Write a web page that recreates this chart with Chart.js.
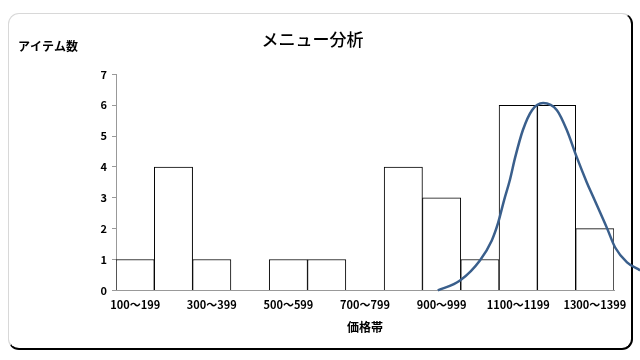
<!DOCTYPE html>
<html>
<head>
<meta charset="utf-8">
<script src="https://cdn.jsdelivr.net/npm/chart.js@4/dist/chart.umd.min.js"></script>
<style>
    html, body { margin: 0; padding: 0; background: #fff; }
    #wrap { position: relative; width: 640px; height: 360px; }
    #frame {
        position: absolute; left: 8px; top: 13px; width: 622px; height: 334px;
        border-left: 1px solid #d8d8d8; border-top: 1px solid #d8d8d8;
        border-right: 2px solid #000; border-bottom: 2px solid #000;
        border-radius: 11px;
    }
    canvas { position: absolute; left: 0; top: 0; }
</style>
</head>
<body>
<div id="wrap">
    <div id="frame"></div>
    <canvas id="menu-chart" width="640" height="360"></canvas>
</div>
<script>
/**
 *  Chart data
 */
var priceBands = ['100〜199', '200〜299', '300〜399', '400〜499', '500〜599', '600〜699', '700〜799',
                  '800〜899', '900〜999', '1000〜1099', '1100〜1199', '1200〜1299', '1300〜1399'];
var itemCounts = [1, 4, 1, 0, 1, 1, 0, 4, 3, 1, 6, 6, 2];

// distribution curve (x in price-band units from the left edge)
var curveX = [8.40, 8.98, 9.50, 9.81, 9.97, 10.13, 10.28, 10.42, 10.62, 10.86, 11.15,
              11.51, 11.77, 12.03, 12.29, 12.45, 12.82, 13.03, 13.34, 13.68];
var curveY = [0, 0.32, 0.97, 1.62, 2.17, 2.92, 3.57, 4.31, 5.19, 5.84, 6.07,
              5.84, 5.19, 4.31, 3.50, 3.05, 2.01, 1.39, 0.91, 0.65];

var fontFamily = '"Noto Sans CJK JP", "Noto Sans", sans-serif';
Chart.defaults.font.family = fontFamily;
Chart.defaults.color = '#000';

var curvePoints = curveX.map(function (x, i) {
    return { x: x, y: curveY[i] };
});

/**
 *  Horizontal y axis caption in the top left corner
 */
var yCaption = {
    id: 'yCaption',
    afterDraw: function (chart) {
        var ctx = chart.ctx;
        ctx.save();
        ctx.font = 'bold 12px ' + fontFamily;
        ctx.fillStyle = '#000';
        ctx.textAlign = 'left';
        ctx.textBaseline = 'middle';
        ctx.fillText('アイテム数', 18, 46);
        ctx.restore();
    }
};

var ctx = document.getElementById('menu-chart').getContext('2d');
var myMenuChart = new Chart(ctx, {
    type: 'bar',
    data: {
        labels: priceBands,
        datasets: [
        {
            data: itemCounts,
            backgroundColor: '#ffffff',
            borderColor: '#000000',
            borderWidth: 1,
            grouped: false,
            barPercentage: 1,
            categoryPercentage: 1,
            order: 2
        },
        {
            type: 'line',
            data: curvePoints,
            xAxisID: 'x2',
            borderColor: '#3a5f8c',
            borderWidth: 2.5,
            pointRadius: 0,
            cubicInterpolationMode: 'monotone',
            fill: false,
            clip: false,
            order: 1
        }
        ]
    },
    options: {
        responsive: false,
        animation: false,
        layout: {
            padding: { top: 12, right: 26, bottom: 25, left: 11 }
        },
        plugins: {
            legend: { display: false },
            tooltip: { enabled: false },
            title: {
                display: true,
                text: 'メニュー分析',
                font: { size: 17, weight: '500' },
                color: '#000',
                padding: { top: 17, bottom: 25 }
            }
        },
        scales: {
            x: {
                grid: { display: false },
                border: { color: '#999' },
                ticks: {
                    autoSkip: false,
                    maxRotation: 0,
                    font: { size: 11, weight: 'bold' },
                    padding: 0,
                    callback: function (value, index) {
                        return index % 2 === 0 ? priceBands[index] : '';
                    }
                },
                title: {
                    display: true,
                    text: '価格帯',
                    font: { size: 12, weight: 'bold' },
                    padding: { top: 9, bottom: 0 }
                }
            },
            x2: {
                type: 'linear',
                display: false,
                offset: false,
                bounds: 'data',
                // range set here (not as min/max) so the curve may run past the right edge
                afterDataLimits: function (scale) {
                    scale.min = 0;
                    scale.max = priceBands.length;
                }
            },
            y: {
                min: 0,
                max: 7,
                afterFit: function (scale) {
                    scale.width = 105;
                },
                grid: {
                    drawOnChartArea: false,
                    drawTicks: true,
                    tickLength: 4,
                    color: '#999'
                },
                border: { color: '#999' },
                ticks: {
                    stepSize: 1,
                    padding: 5,
                    font: { size: 11, weight: 'bold' }
                }
            }
        }
    },
    plugins: [yCaption]
});
</script>
</body>
</html>
